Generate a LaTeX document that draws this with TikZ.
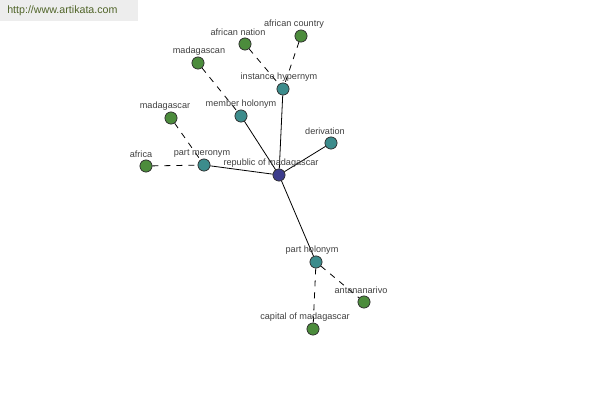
\documentclass[tikz,border=0pt]{standalone}
\usepackage{fontspec}
\setmainfont{Liberation Sans}
\begin{document}
\begin{tikzpicture}[x=0.75pt,y=-0.75pt,
  dot/.style={circle,draw=black!80,line width=0.5pt,minimum size=9pt,inner sep=0pt},
  gdot/.style={dot,fill=green2},
  tdot/.style={dot,fill=teal2},
  cdot/.style={dot,fill=blue2},
  lbl/.style={font=\fontsize{6.85pt}{7pt}\selectfont,text=black!75,inner sep=0pt},
  solidline/.style={line width=0.6pt,draw=black},
  dashline/.style={line width=0.6pt,draw=black,dash pattern=on 4.5pt off 4.5pt}]
\definecolor{green2}{HTML}{4C8C3C}
\definecolor{teal2}{HTML}{3C8C8C}
\definecolor{blue2}{HTML}{3C3C8C}
\useasboundingbox (0,0) rectangle (600,400);
\fill[white] (0,0) rectangle (600,400);
\fill[black!7] (0,0) rectangle (138,21);
\node[anchor=west,inner sep=0pt,font=\fontsize{8pt}{9pt}\selectfont,text={rgb,255:red,80;green,100;blue,40}] (wm) at (7,11) {http://www.artikata.com};
% nodes
\node[tdot] (ih) at (283,89) {};
\node[gdot] (an) at (245,44) {};
\node[gdot] (ac) at (301,36) {};
\node[gdot] (mn) at (198,63) {};
\node[tdot] (mh) at (241,116) {};
\node[gdot] (mg) at (171,118) {};
\node[tdot] (pm) at (204,165) {};
\node[gdot] (af) at (146,166) {};
\node[tdot] (dv) at (331,143) {};
\node[tdot] (ph) at (316,262) {};
\node[gdot] (ant) at (364,302) {};
\node[gdot] (cap) at (313,329) {};
\node[cdot] (rm) at (279,175) {};
% edges
\draw[solidline] (rm) -- (ih);
\draw[solidline] (rm) -- (mh);
\draw[solidline] (rm) -- (pm);
\draw[solidline] (rm) -- (dv);
\draw[solidline] (rm) -- (ph);
\draw[dashline] (an) -- (ih);
\draw[dashline] (ac) -- (ih);
\draw[dashline] (mn) -- (mh);
\draw[dashline] (mg) -- (pm);
\draw[dashline] (af) -- (pm);
\draw[dashline] (ph) -- (ant);
\draw[dashline] (ph) -- (cap);
% redraw nodes on top
\foreach \n/\s in {ih/tdot,an/gdot,ac/gdot,mn/gdot,mh/tdot,mg/gdot,pm/tdot,af/gdot,dv/tdot,ph/tdot,ant/gdot,cap/gdot,rm/cdot}
  \node[\s] at (\n) {};
% labels
\node[lbl] (l1) at (279,77) {instance hypernym};
\node[lbl] (l2) at (238,32) {african nation};
\node[lbl] (l3) at (294,24) {african country};
\node[lbl] (l4) at (199,51) {madagascan};
\node[lbl] (l5) at (241,104) {member holonym};
\node[lbl] (l6) at (165,106) {madagascar};
\node[lbl] (l7) at (202,153) {part meronym};
\node[lbl] (l8) at (141,154) {africa};
\node[lbl] (l9) at (325,131) {derivation};
\node[lbl] (l10) at (271,163) {republic of madagascar};
\node[lbl] (l11) at (312,250) {part holonym};
\node[lbl] (l12) at (361,290) {antananarivo};
\node[lbl] (l13) at (305,317) {capital of madagascar};
\end{tikzpicture}
\end{document}
